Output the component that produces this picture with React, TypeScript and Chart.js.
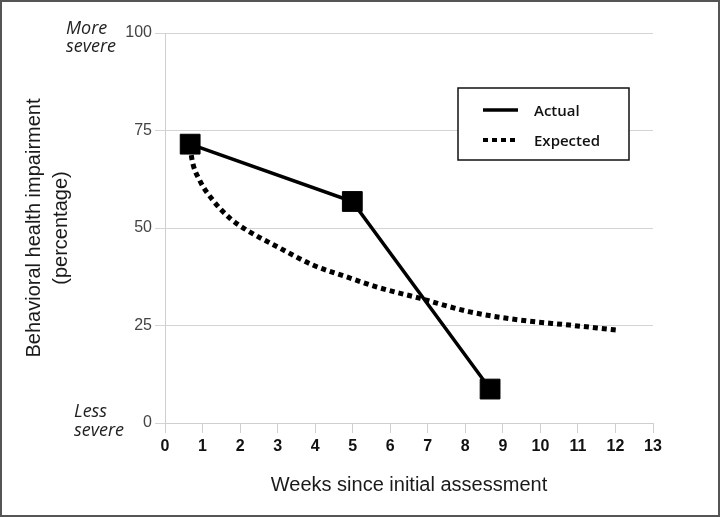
import React, { useEffect, useRef } from 'react';
import { Chart, registerables } from 'chart.js';

Chart.register(...registerables);

// ---- Data ----
const xTickValues = [0, 1, 2, 3, 4, 5, 6, 7, 8, 9, 10, 11, 12, 13];
const yTickValues = [0, 25, 50, 75, 100];

const actualLabel = 'Actual';
const actualWeeks = [0.67, 4.99, 8.66];
const actualValues = [71.5, 56.8, 8.7];

const expectedLabel = 'Expected';
const expectedWeeks = [0.67, 0.72, 0.92, 1.27, 1.72, 2.17, 3.05, 3.94, 4.83, 5.63, 6.78, 8.12, 9.45, 10.78, 12.07];
const expectedValues = [71, 67.5, 62.3, 57.2, 52.6, 49.5, 44.9, 40.5, 37.5, 34.9, 32, 28.5, 26.4, 25.1, 23.8];

const xTitle = 'Weeks since initial assessment';
const yTitle = ['Behavioral health impairment', '(percentage)'];
const topNote = ['More', 'severe'];
const bottomNote = ['Less', 'severe'];

export default function App() {
  const ref = useRef<HTMLCanvasElement | null>(null);

  useEffect(() => {
    if (!ref.current) return;

    const legendPlugin = {
      id: 'boxLegend',
      afterDraw(chart: any) {
        const ctx = chart.ctx as CanvasRenderingContext2D;
        ctx.save();
        const bx = 458, by = 88, bw = 171, bh = 72;
        ctx.fillStyle = '#ffffff';
        ctx.fillRect(bx, by, bw, bh);
        ctx.strokeStyle = '#111';
        ctx.lineWidth = 1.5;
        ctx.strokeRect(bx, by, bw, bh);
        const rows = [110, 140];
        chart.data.datasets.forEach((ds: any, i: number) => {
          const y = rows[i];
          ctx.save();
          ctx.strokeStyle = ds.borderColor;
          ctx.lineWidth = i === 0 ? 3.5 : 4;
          ctx.setLineDash(ds.borderDash || []);
          ctx.lineCap = 'butt';
          ctx.beginPath();
          ctx.moveTo(483, y);
          ctx.lineTo(518, y);
          ctx.stroke();
          ctx.restore();
          ctx.fillStyle = '#111';
          ctx.font = '600 15px "Open Sans", "Liberation Sans", sans-serif';
          ctx.textBaseline = 'middle';
          ctx.textAlign = 'left';
          ctx.fillText(ds.label, 534, y + 2);
        });
        ctx.restore();
      },
    };

    const notesPlugin = {
      id: 'severityNotes',
      afterDraw(chart: any) {
        const ctx = chart.ctx as CanvasRenderingContext2D;
        ctx.save();
        ctx.fillStyle = '#222';
        ctx.font = 'italic 18px "Open Sans", "Liberation Sans", sans-serif';
        ctx.textBaseline = 'middle';
        ctx.textAlign = 'left';
        ctx.fillText(topNote[0], 66, 29);
        ctx.fillText(topNote[1], 66, 47);
        ctx.fillText(bottomNote[0], 74, 412);
        ctx.fillText(bottomNote[1], 74, 431);
        ctx.restore();
      },
    };

    const chart = new Chart(ref.current, {
      type: 'line',
      data: {
        datasets: [
          {
            label: actualLabel,
            data: actualWeeks.map((x, i) => ({ x, y: actualValues[i] })),
            borderColor: '#000',
            backgroundColor: '#000',
            borderWidth: 3.5,
            pointStyle: 'rect',
            pointRadius: 14,
            pointBorderWidth: 1,
            pointBackgroundColor: '#000',
            pointBorderColor: '#000',
            tension: 0,
            order: 0,
          },
          {
            label: expectedLabel,
            data: expectedWeeks.map((x, i) => ({ x, y: expectedValues[i] })),
            borderColor: '#000',
            backgroundColor: '#000',
            borderWidth: 5,
            borderDash: [5, 4],
            borderCapStyle: 'butt',
            pointRadius: 0,
            cubicInterpolationMode: 'monotone',
            order: 1,
          },
        ],
      },
      options: {
        animation: false,
        responsive: false,
        devicePixelRatio: 1,
        events: [],
        layout: { padding: { top: 33, right: 67, bottom: 0, left: 0 } },
        plugins: {
          legend: { display: false },
          tooltip: { enabled: false },
          title: { display: false },
        },
        scales: {
          x: {
            type: 'linear',
            min: 0,
            max: 13,
            afterBuildTicks(scale: any) {
              scale.ticks = xTickValues.map((v) => ({ value: v }));
            },
            afterFit(scale: any) {
              scale.height = 94;
            },
            ticks: {
              autoSkip: false,
              maxRotation: 0,
              padding: 4,
              color: '#111',
              font: { family: '"Liberation Sans Narrow", "Liberation Sans", Arial, sans-serif', size: 16, weight: 'bold' },
            },
            grid: { drawOnChartArea: false, drawTicks: true, tickLength: 10, color: '#cfcfcf' },
            border: { color: '#cfcfcf', width: 1 },
            title: {
              display: true,
              text: xTitle,
              color: '#1a1a1a',
              font: { family: '"Liberation Sans", Arial, sans-serif', size: 20 },
              padding: { top: 0, bottom: 20 },
            },
          },
          y: {
            min: 0,
            max: 100,
            afterBuildTicks(scale: any) {
              scale.ticks = yTickValues.map((v) => ({ value: v }));
            },
            afterFit(scale: any) {
              scale.width = 165;
            },
            ticks: {
              padding: 3,
              color: '#444',
              font: { family: '"Liberation Sans", Arial, sans-serif', size: 16 },
            },
            grid: { color: '#d4d4d4', tickLength: 10, lineWidth: 1 },
            border: { color: '#cfcfcf', width: 1 },
            title: {
              display: true,
              text: yTitle,
              color: '#1a1a1a',
              font: { family: '"Liberation Sans", Arial, sans-serif', size: 20, lineHeight: 1.35 },
              padding: { top: 21, bottom: 0 },
            },
          },
        },
      } as any,
      plugins: [notesPlugin, legendPlugin],
    });

    return () => chart.destroy();
  }, []);

  return (
    <div style={{ position: 'fixed', left: 0, top: 0, width: 720, height: 517, background: '#fff' }}>
      <canvas ref={ref} width={720} height={517} style={{ display: 'block', width: 720, height: 517 }} />
      <div
        style={{
          position: 'absolute',
          left: 0,
          top: 0,
          width: 720,
          height: 517,
          boxSizing: 'border-box',
          border: '2px solid #555',
          pointerEvents: 'none',
        }}
      />
    </div>
  );
}
